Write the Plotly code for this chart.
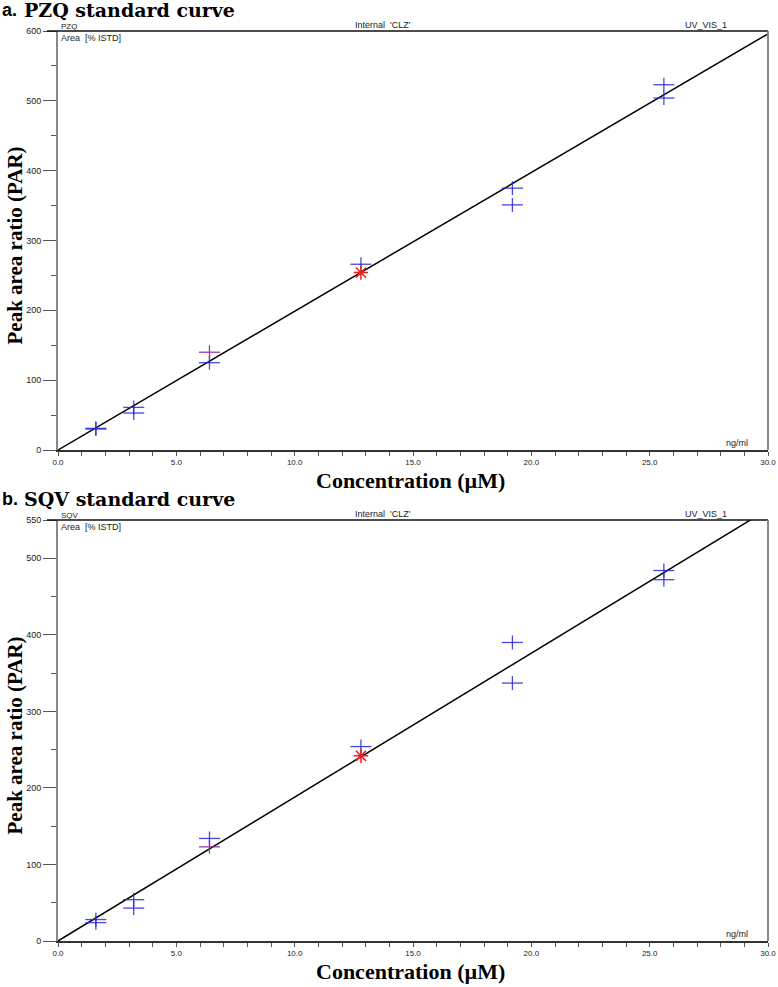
import plotly.graph_objects as go

# ---- data ----
x_ticks = [0, 5, 10, 15, 20, 25, 30]
x_tick_labels = ["0.0", "5.0", "10.0", "15.0", "20.0", "25.0", "30.0"]

# Panel a (PZQ)
a_blue_x = [1.6, 1.6, 3.2, 3.2, 6.4, 12.8, 19.2, 19.2, 25.6, 25.6]
a_blue_y = [31, 30, 61, 53, 125, 266, 375, 351, 523, 504]
a_purple_x = [6.4]
a_purple_y = [140]
a_red_x = [12.8]
a_red_y = [254]
a_line_x = [0, 30]
a_line_y = [0, 596]
a_y_ticks = [0, 100, 200, 300, 400, 500, 600]

# Panel b (SQV)
b_blue_x = [1.6, 1.6, 3.2, 3.2, 6.4, 12.8, 19.2, 19.2, 25.6, 25.6]
b_blue_y = [28, 24, 54, 43, 134, 254, 390, 337, 484, 472]
b_purple_x = [6.4]
b_purple_y = [123]
b_red_x = [12.8]
b_red_y = [242]
b_line_x = [0, 30]
b_line_y = [0, 564]
b_y_ticks = [0, 100, 200, 300, 400, 500, 550]

W, H = 778, 987
def px(xp):
    return xp / W
def py(yp):
    return 1 - yp / H

fig = go.Figure()

panels = [
    dict(xa="x", ya="y", bx=a_blue_x, by=a_blue_y, ppx=a_purple_x, ppy=a_purple_y,
         rx=a_red_x, ry=a_red_y, lx=a_line_x, ly=a_line_y, yt=a_y_ticks, ymax=600,
         top=31, bot=450, title="PZQ standard curve", letter="a.", name="PZQ", xt_y=480),
    dict(xa="x2", ya="y2", bx=b_blue_x, by=b_blue_y, ppx=b_purple_x, ppy=b_purple_y,
         rx=b_red_x, ry=b_red_y, lx=b_line_x, ly=b_line_y, yt=b_y_ticks, ymax=550,
         top=520, bot=941, title="SQV standard curve", letter="b.", name="SQV", xt_y=971),
]

left, right = 58, 768
annotations = []
shapes = []


def add_cross(xs, ys, color, xa, ya):
    fig.add_trace(go.Scatter(x=xs, y=ys, mode="markers",
                             marker=dict(symbol="line-ew", size=15, color=color,
                                         line=dict(color=color, width=1.3)),
                             xaxis=xa, yaxis=ya, showlegend=False))
    fig.add_trace(go.Scatter(x=xs, y=ys, mode="markers",
                             marker=dict(symbol="line-ns", size=10, color=color,
                                         line=dict(color=color, width=1.3)),
                             xaxis=xa, yaxis=ya, showlegend=False))


for i, p in enumerate(panels):
    fig.add_trace(go.Scatter(x=p["lx"], y=p["ly"], mode="lines",
                             line=dict(color="black", width=1.5),
                             xaxis=p["xa"], yaxis=p["ya"], showlegend=False, hoverinfo="skip"))
    add_cross(p["bx"], p["by"], "rgba(40,40,220,0.85)", p["xa"], p["ya"])
    add_cross(p["ppx"], p["ppy"], "rgba(150,40,150,0.9)", p["xa"], p["ya"])
    fig.add_trace(go.Scatter(x=p["rx"], y=p["ry"], mode="markers",
                             marker=dict(symbol="asterisk-open", size=12, color="rgb(235,30,30)",
                                         line=dict(color="rgb(235,30,30)", width=1.5)),
                             xaxis=p["xa"], yaxis=p["ya"], showlegend=False))

    suffix = "" if i == 0 else "2"
    fig.update_layout(**{
        "xaxis" + suffix: dict(
            domain=[px(left), px(right)], anchor="y" + suffix, range=[0, 30],
            tickmode="array", tickvals=x_ticks, ticktext=x_tick_labels,
            ticks="outside", ticklen=4, tickcolor="#555", tickwidth=1,
            minor=dict(dtick=1, ticks="outside", ticklen=4, tickcolor="#555"),
            showline=True, linecolor="#333", linewidth=1.5,
            showgrid=False, zeroline=False, automargin=False,
            tickfont=dict(family="Liberation Sans, Arial", size=8, color="#222"),
        ),
        "yaxis" + suffix: dict(
            domain=[py(p["bot"]), py(p["top"])], anchor="x" + suffix, range=[0, p["ymax"]],
            tickmode="array", tickvals=p["yt"],
            ticks="outside", ticklen=13, tickcolor="#555", tickwidth=1,
            minor=dict(dtick=50, ticks="outside", ticklen=5, tickcolor="#555"),
            showline=True, linecolor="#888", linewidth=2,
            showgrid=False, zeroline=False, automargin=False,
            tickfont=dict(family="Liberation Sans, Arial", size=9, color="#222"),
        ),
    })
    # borders: top black line, right gray line
    shapes.append(dict(type="line", xref="paper", yref="paper",
                       x0=px(47), x1=px(right), y0=py(p["top"]), y1=py(p["top"]),
                       line=dict(color="#111", width=1.5)))
    shapes.append(dict(type="line", xref="paper", yref="paper",
                       x0=px(right), x1=px(right), y0=py(p["top"]), y1=py(p["bot"]),
                       line=dict(color="#888", width=2)))
    small = dict(family="Liberation Sans, Arial", size=9, color="#222")
    annotations += [
        dict(text="<b>" + p["letter"] + "</b>",
             xref="paper", yref="paper", x=px(0), y=py(p["top"] - 20.5), xanchor="left", yanchor="middle",
             showarrow=False, font=dict(family="Liberation Sans, Arial", size=18, color="black")),
        dict(text="<b>" + p["title"] + "</b>",
             xref="paper", yref="paper", x=px(22), y=py(p["top"] - 20.5), xanchor="left", yanchor="middle",
             showarrow=False, font=dict(family="DejaVu Serif, Liberation Serif", size=19, color="black")),
        dict(text=p["name"], xref="paper", yref="paper", x=px(59), y=py(p["top"] - 4.5),
             xanchor="left", yanchor="middle", showarrow=False,
             font=dict(family="Liberation Sans, Arial", size=8, color="#222")),
        dict(text="Area  [% ISTD]", xref="paper", yref="paper", x=px(59), y=py(p["top"] + 7),
             xanchor="left", yanchor="middle", showarrow=False, font=small),
        dict(text="Internal  'CLZ'", xref="paper", yref="paper", x=px(383), y=py(p["top"] - 6),
             xanchor="center", yanchor="middle", showarrow=False, font=small),
        dict(text="UV_VIS_1", xref="paper", yref="paper", x=px(706), y=py(p["top"] - 6),
             xanchor="center", yanchor="middle", showarrow=False, font=small),
        dict(text="ng/ml", xref="paper", yref="paper", x=px(737), y=py(p["bot"] - 7),
             xanchor="center", yanchor="middle", showarrow=False, font=small),
        dict(text="<b>Concentration (µM)</b>", xref="paper", yref="paper", x=px(410), y=py(p["xt_y"]),
             xanchor="center", yanchor="middle", showarrow=False,
             font=dict(family="Liberation Serif, Times New Roman", size=22, color="black")),
        dict(text="<b>Peak area ratio (PAR)</b>", xref="paper", yref="paper", x=px(14),
             y=py((p["top"] + p["bot"]) / 2 + 5), textangle=-90,
             xanchor="center", yanchor="middle", showarrow=False,
             font=dict(family="Liberation Serif, Times New Roman", size=21, color="black")),
    ]

fig.update_layout(width=W, height=H, margin=dict(l=0, r=0, t=0, b=0, autoexpand=False),
                  plot_bgcolor="white", paper_bgcolor="white",
                  annotations=annotations, shapes=shapes, showlegend=False)

fig.write_html("out.html", config={"displayModeBar": False},
               post_script="document.body.style.margin='0px';")
